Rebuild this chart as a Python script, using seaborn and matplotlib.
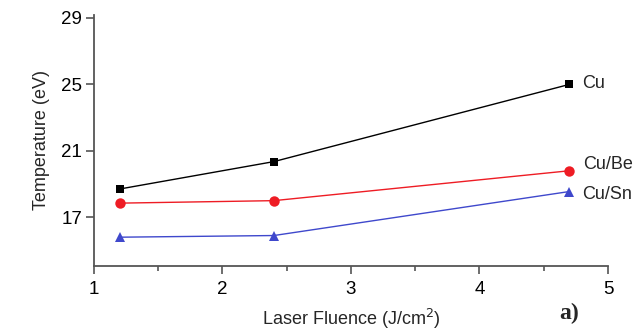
import matplotlib
matplotlib.use("Agg")
import matplotlib.pyplot as plt
import seaborn as sns
import pandas as pd
from matplotlib.ticker import MultipleLocator

fluence = [1.2, 2.4, 4.7]
temp_cu = [18.7, 20.35, 25.0]
temp_cube = [17.85, 18.0, 19.8]
temp_cusn = [15.8, 15.9, 18.55]
series = ["Cu", "Cu/Be", "Cu/Sn"]
colors = {"Cu": "#000000", "Cu/Be": "#ee1c24", "Cu/Sn": "#3f48cc"}
markers = {"Cu": "s", "Cu/Be": "o", "Cu/Sn": "^"}
msizes = {"Cu": 5.5, "Cu/Be": 7.5, "Cu/Sn": 6.5}

sns.set_style("ticks")
plt.rcParams["font.family"] = ["Liberation Sans", "DejaVu Sans"]

fig = plt.figure(figsize=(6.43, 3.32), dpi=100)
ax = fig.add_axes([0.146, 0.199, 0.7996, 0.756])

for name, vals in zip(series, [temp_cu, temp_cube, temp_cusn]):
    df = pd.DataFrame({"fluence": fluence, "temp": vals})
    sns.lineplot(data=df, x="fluence", y="temp", color=colors[name],
                 marker=markers[name], linewidth=1.0, markersize=msizes[name],
                 markeredgewidth=0, ax=ax)

ax.set_xlim(1, 5)
ax.set_ylim(14.07, 29.18)
ax.set_yticks([17, 21, 25, 29])
ax.xaxis.set_major_locator(MultipleLocator(1))
ax.xaxis.set_minor_locator(MultipleLocator(0.5))

for s in ["top", "right"]:
    ax.spines[s].set_visible(False)
for s in ["left", "bottom"]:
    ax.spines[s].set_color("#555555")
    ax.spines[s].set_linewidth(1.3)

ax.tick_params(axis="both", which="major", direction="out", length=5.5, width=1.2,
               color="#555555", labelsize=13.5, labelcolor="black")
ax.tick_params(axis="x", which="major", pad=5)
ax.tick_params(axis="y", which="major", pad=3)
ax.tick_params(axis="x", which="minor", direction="out", length=3.5, width=1.2, color="#555555")

ax.set_xlabel("Laser Fluence (J/cm$^2$)", fontsize=13, labelpad=6.5)
ax.set_ylabel("Temperature (eV)", fontsize=13, labelpad=8)

label_offsets = {"Cu": (13, 1), "Cu/Be": (14, 6), "Cu/Sn": (13, -3)}
for name, vals in zip(series, [temp_cu, temp_cube, temp_cusn]):
    ax.annotate(name, xy=(fluence[-1], vals[-1]), xytext=label_offsets[name],
                textcoords="offset pixels", fontsize=13, va="center", ha="left")

fig.text(0.869, 0.057, "a)", fontsize=17, fontweight="bold",
         family=["Liberation Serif", "DejaVu Serif"], ha="left", va="center")

fig.savefig("out.png", dpi=100)
